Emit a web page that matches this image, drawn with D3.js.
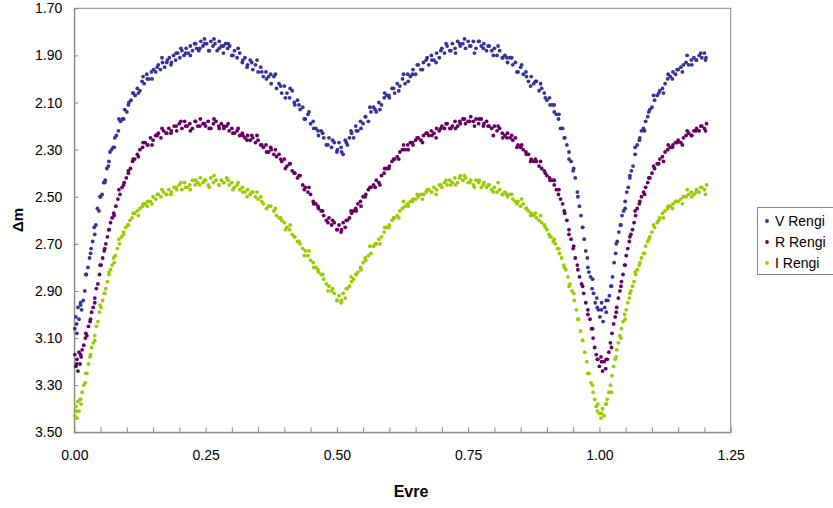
<!DOCTYPE html>
<html><head><meta charset="utf-8">
<script src="https://cdn.jsdelivr.net/npm/d3@7/dist/d3.min.js"></script>
<style>body{margin:0;background:#fff}svg{display:block;font-family:"Liberation Sans",Arial,sans-serif}</style>
</head><body><svg id="c" width="833" height="508"></svg>
<script>
const seriesNames = ["V Rengi","R Rengi","I Rengi"];
const seriesColors = ["#333399","#660066","#99CC00"];
const yTicks = [1.70,1.90,2.10,2.30,2.50,2.70,2.90,3.10,3.30,3.50];
const xTickLabels = [0.00,0.25,0.50,0.75,1.00,1.25];

const vSet1 = [[0.001,3.06],[0.003,3.01],[0.005,3.08],[0.007,2.97],[0.009,3.02],[0.012,2.95],[0.014,2.98],[0.017,2.94],[0.020,2.90],[0.023,2.83],[0.026,2.80],[0.029,2.76],[0.032,2.72],[0.035,2.69],[0.038,2.63],[0.041,2.62],[0.044,2.55],[0.047,2.56],[0.050,2.50],[0.053,2.49],[0.056,2.44],[0.059,2.43],[0.062,2.38],[0.065,2.37],[0.068,2.31],[0.071,2.30],[0.074,2.29],[0.077,2.25],[0.080,2.24],[0.084,2.22],[0.088,2.18],[0.092,2.17],[0.096,2.13],[0.100,2.14],[0.104,2.10],[0.108,2.09],[0.112,2.06],[0.116,2.07],[0.120,2.04],[0.125,2.05],[0.129,2.01],[0.133,2.02],[0.138,1.98],[0.142,2.00],[0.147,1.97],[0.151,1.96],[0.155,1.97],[0.160,1.94],[0.164,1.96],[0.168,1.93],[0.172,1.95],[0.177,1.92],[0.181,1.91],[0.185,1.93],[0.189,1.90],[0.193,1.92],[0.197,1.89],[0.201,1.91],[0.205,1.88],[0.209,1.90],[0.213,1.87],[0.217,1.89],[0.221,1.86],[0.225,1.88],[0.229,1.85],[0.233,1.87],[0.237,1.88],[0.241,1.84],[0.245,1.86],[0.248,1.83],[0.252,1.85],[0.256,1.88],[0.260,1.84],[0.264,1.86],[0.268,1.85],[0.272,1.88],[0.276,1.84],[0.280,1.86],[0.284,1.89],[0.288,1.85],[0.292,1.87],[0.296,1.86],[0.300,1.90],[0.305,1.88],[0.310,1.91],[0.315,1.89],[0.320,1.93],[0.325,1.91],[0.330,1.94],[0.335,1.92],[0.340,1.96],[0.345,1.94],[0.350,1.97],[0.355,1.95],[0.360,1.99],[0.365,1.97],[0.370,1.99],[0.375,2.02],[0.380,1.99],[0.385,2.04],[0.390,2.02],[0.395,2.06],[0.400,2.03],[0.405,2.06],[0.410,2.08],[0.415,2.05],[0.420,2.11],[0.425,2.09],[0.430,2.13],[0.435,2.12],[0.440,2.17],[0.445,2.15],[0.450,2.19],[0.455,2.18],[0.460,2.21],[0.465,2.24],[0.470,2.22],[0.475,2.25],[0.480,2.28],[0.485,2.25],[0.490,2.29],[0.495,2.27],[0.500,2.31],[0.504,2.27],[0.508,2.29],[0.512,2.32],[0.516,2.26],[0.520,2.28],[0.524,2.25],[0.528,2.23],[0.532,2.25],[0.536,2.20],[0.540,2.22],[0.545,2.18],[0.550,2.19],[0.555,2.16],[0.560,2.18],[0.565,2.14],[0.570,2.12],[0.575,2.14],[0.580,2.10],[0.585,2.11],[0.590,2.08],[0.595,2.07],[0.600,2.08],[0.605,2.04],[0.610,2.06],[0.615,2.02],[0.620,2.03],[0.625,2.00],[0.630,2.02],[0.635,1.98],[0.640,1.99],[0.645,1.96],[0.650,1.98],[0.655,1.94],[0.660,1.96],[0.665,1.93],[0.670,1.92],[0.675,1.94],[0.680,1.90],[0.685,1.92],[0.690,1.89],[0.695,1.91],[0.700,1.87],[0.705,1.89],[0.710,1.86],[0.715,1.88],[0.720,1.85],[0.725,1.87],[0.730,1.84],[0.735,1.86],[0.740,1.85],[0.745,1.87],[0.750,1.84],[0.755,1.86],[0.760,1.84],[0.765,1.87],[0.770,1.84],[0.775,1.86],[0.780,1.85],[0.785,1.88],[0.790,1.86],[0.795,1.88],[0.800,1.87],[0.805,1.90],[0.810,1.88],[0.815,1.91],[0.820,1.90],[0.825,1.93],[0.830,1.91],[0.835,1.94],[0.840,1.93],[0.845,1.97],[0.850,1.95],[0.855,1.98],[0.860,1.97],[0.865,2.01],[0.870,1.99],[0.875,2.02],[0.880,2.01],[0.885,2.05],[0.890,2.04],[0.895,2.06],[0.900,2.09],[0.905,2.08],[0.910,2.11],[0.914,2.14],[0.918,2.15],[0.922,2.17],[0.926,2.21],[0.930,2.21],[0.934,2.25],[0.938,2.28],[0.942,2.31],[0.946,2.35],[0.950,2.39],[0.954,2.42],[0.958,2.48],[0.962,2.54],[0.965,2.58],[0.968,2.63],[0.971,2.68],[0.974,2.73],[0.977,2.76],[0.980,2.82],[0.983,2.84],[0.986,2.89],[0.989,2.91],[0.992,2.95],[0.995,2.93],[0.998,2.98],[1.001,3.01],[1.004,2.95],[1.007,3.03],[1.010,2.97],[1.013,2.99],[1.016,2.94],[1.019,2.92],[1.022,2.88],[1.025,2.84],[1.028,2.78],[1.031,2.74],[1.034,2.69],[1.037,2.65],[1.040,2.62],[1.043,2.58],[1.046,2.56],[1.049,2.52],[1.052,2.48],[1.055,2.46],[1.058,2.42],[1.061,2.39],[1.064,2.37],[1.068,2.32],[1.072,2.28],[1.076,2.26],[1.080,2.22],[1.084,2.21],[1.088,2.18],[1.092,2.16],[1.096,2.13],[1.100,2.12],[1.105,2.09],[1.110,2.07],[1.115,2.05],[1.120,2.04],[1.125,2.02],[1.130,2.00],[1.135,1.99],[1.140,1.97],[1.145,1.98],[1.150,1.96],[1.155,1.95],[1.160,1.94],[1.165,1.93],[1.170,1.94],[1.175,1.92],[1.180,1.91],[1.185,1.92],[1.190,1.90],[1.195,1.91],[1.200,1.89],[1.203,1.91]];
const vSet2 = [[0.0045,3.04],[0.012,2.96],[0.022,2.83],[0.031,2.74],[0.039,2.66],[0.049,2.50],[0.058,2.44],[0.066,2.35],[0.076,2.29],[0.085,2.17],[0.094,2.17],[0.103,2.11],[0.112,2.06],[0.122,2.06],[0.131,1.99],[0.139,2.00],[0.148,2.00],[0.158,1.95],[0.167,1.91],[0.176,1.93],[0.184,1.94],[0.194,1.89],[0.203,1.87],[0.212,1.89],[0.221,1.90],[0.231,1.85],[0.239,1.87],[0.248,1.85],[0.257,1.88],[0.266,1.83],[0.276,1.87],[0.284,1.86],[0.293,1.85],[0.302,1.90],[0.312,1.87],[0.321,1.92],[0.329,1.95],[0.338,1.93],[0.348,1.92],[0.357,1.97],[0.366,2.00],[0.374,1.98],[0.383,1.98],[0.393,2.03],[0.402,2.08],[0.411,2.04],[0.419,2.10],[0.428,2.11],[0.438,2.17],[0.447,2.14],[0.456,2.21],[0.464,2.22],[0.473,2.23],[0.483,2.28],[0.492,2.26],[0.501,2.30],[0.509,2.31],[0.518,2.27],[0.527,2.22],[0.537,2.22],[0.546,2.21],[0.554,2.16],[0.563,2.12],[0.573,2.13],[0.582,2.13],[0.591,2.06],[0.599,2.07],[0.608,2.04],[0.618,2.05],[0.627,1.98],[0.636,2.01],[0.644,1.98],[0.653,1.94],[0.663,1.96],[0.672,1.91],[0.681,1.92],[0.689,1.93],[0.698,1.88],[0.708,1.85],[0.717,1.88],[0.726,1.89],[0.734,1.85],[0.743,1.83],[0.753,1.86],[0.762,1.89],[0.771,1.84],[0.779,1.87],[0.788,1.86],[0.798,1.90],[0.807,1.86],[0.816,1.91],[0.824,1.91],[0.833,1.91],[0.843,1.97],[0.852,1.94],[0.861,1.99],[0.869,2.03],[0.878,2.01],[0.888,2.02],[0.897,2.08],[0.906,2.11],[0.914,2.11],[0.923,2.15],[0.933,2.25],[0.942,2.34],[0.951,2.38],[0.959,2.50],[0.968,2.63],[0.978,2.80],[0.987,2.85],[0.996,2.97],[1.004,2.98],[1.013,2.94],[1.023,2.88],[1.032,2.70],[1.041,2.62],[1.049,2.55],[1.058,2.41],[1.068,2.29],[1.077,2.25],[1.086,2.22],[1.094,2.14],[1.103,2.07],[1.113,2.06],[1.122,2.06],[1.131,1.98],[1.139,2.00],[1.148,1.96],[1.158,1.97],[1.167,1.90],[1.176,1.94],[1.184,1.92],[1.193,1.89],[1.202,1.92]];

const rSet1 = [[0.001,3.17],[0.003,3.22],[0.005,3.19],[0.007,3.24],[0.009,3.16],[0.011,3.21],[0.013,3.18],[0.015,3.15],[0.018,3.13],[0.021,3.10],[0.024,3.09],[0.027,3.05],[0.030,3.03],[0.033,2.99],[0.036,2.97],[0.039,2.93],[0.042,2.89],[0.045,2.87],[0.048,2.83],[0.051,2.79],[0.054,2.76],[0.057,2.73],[0.060,2.70],[0.063,2.67],[0.066,2.64],[0.069,2.61],[0.072,2.59],[0.075,2.57],[0.079,2.54],[0.083,2.51],[0.087,2.49],[0.091,2.46],[0.095,2.44],[0.099,2.42],[0.103,2.39],[0.107,2.38],[0.111,2.35],[0.115,2.34],[0.120,2.32],[0.125,2.30],[0.130,2.29],[0.135,2.27],[0.140,2.28],[0.145,2.25],[0.150,2.26],[0.155,2.24],[0.160,2.23],[0.165,2.25],[0.170,2.22],[0.175,2.23],[0.180,2.21],[0.185,2.22],[0.190,2.20],[0.195,2.22],[0.200,2.19],[0.205,2.21],[0.210,2.18],[0.215,2.20],[0.220,2.19],[0.225,2.21],[0.230,2.18],[0.235,2.20],[0.240,2.17],[0.245,2.19],[0.250,2.20],[0.255,2.18],[0.260,2.21],[0.265,2.19],[0.270,2.18],[0.275,2.20],[0.280,2.19],[0.285,2.21],[0.290,2.20],[0.295,2.22],[0.300,2.21],[0.305,2.23],[0.310,2.22],[0.315,2.24],[0.320,2.23],[0.325,2.25],[0.330,2.24],[0.335,2.26],[0.340,2.25],[0.345,2.27],[0.350,2.26],[0.355,2.28],[0.360,2.29],[0.365,2.28],[0.370,2.31],[0.375,2.30],[0.380,2.32],[0.385,2.33],[0.390,2.32],[0.395,2.35],[0.400,2.34],[0.405,2.37],[0.410,2.36],[0.415,2.39],[0.420,2.40],[0.425,2.42],[0.430,2.41],[0.435,2.45],[0.440,2.46],[0.445,2.48],[0.450,2.49],[0.455,2.52],[0.460,2.53],[0.465,2.55],[0.470,2.56],[0.475,2.58],[0.480,2.60],[0.485,2.59],[0.490,2.62],[0.495,2.61],[0.500,2.64],[0.504,2.62],[0.508,2.65],[0.512,2.61],[0.516,2.63],[0.520,2.60],[0.524,2.59],[0.528,2.57],[0.532,2.56],[0.536,2.55],[0.540,2.53],[0.545,2.52],[0.550,2.50],[0.555,2.49],[0.560,2.47],[0.565,2.46],[0.570,2.45],[0.575,2.43],[0.580,2.44],[0.585,2.41],[0.590,2.40],[0.595,2.38],[0.600,2.37],[0.605,2.35],[0.610,2.34],[0.615,2.33],[0.620,2.31],[0.625,2.30],[0.630,2.30],[0.635,2.28],[0.640,2.27],[0.645,2.28],[0.650,2.26],[0.655,2.25],[0.660,2.26],[0.665,2.24],[0.670,2.23],[0.675,2.24],[0.680,2.22],[0.685,2.23],[0.690,2.21],[0.695,2.22],[0.700,2.20],[0.705,2.21],[0.710,2.19],[0.715,2.21],[0.720,2.20],[0.725,2.18],[0.730,2.20],[0.735,2.19],[0.740,2.17],[0.745,2.19],[0.750,2.18],[0.755,2.16],[0.760,2.18],[0.765,2.17],[0.770,2.19],[0.775,2.17],[0.780,2.19],[0.785,2.18],[0.790,2.20],[0.795,2.21],[0.800,2.20],[0.805,2.22],[0.810,2.21],[0.815,2.23],[0.820,2.24],[0.825,2.23],[0.830,2.25],[0.835,2.26],[0.840,2.25],[0.845,2.28],[0.850,2.29],[0.855,2.30],[0.860,2.31],[0.865,2.32],[0.870,2.34],[0.875,2.35],[0.880,2.35],[0.885,2.37],[0.890,2.38],[0.895,2.39],[0.900,2.41],[0.905,2.42],[0.910,2.43],[0.914,2.45],[0.918,2.47],[0.922,2.49],[0.926,2.51],[0.930,2.53],[0.934,2.57],[0.938,2.60],[0.942,2.64],[0.946,2.68],[0.950,2.72],[0.954,2.76],[0.958,2.79],[0.962,2.84],[0.966,2.87],[0.970,2.91],[0.974,2.95],[0.978,2.98],[0.982,3.02],[0.985,3.06],[0.988,3.10],[0.991,3.14],[0.994,3.17],[0.997,3.19],[1.000,3.22],[1.003,3.18],[1.006,3.24],[1.009,3.20],[1.012,3.23],[1.015,3.19],[1.018,3.16],[1.021,3.12],[1.024,3.08],[1.027,3.04],[1.030,3.01],[1.033,2.97],[1.036,2.93],[1.039,2.90],[1.042,2.86],[1.045,2.83],[1.048,2.79],[1.051,2.75],[1.054,2.72],[1.057,2.69],[1.060,2.66],[1.063,2.64],[1.066,2.61],[1.069,2.58],[1.072,2.55],[1.076,2.53],[1.080,2.50],[1.084,2.48],[1.088,2.46],[1.092,2.44],[1.096,2.42],[1.100,2.40],[1.105,2.38],[1.110,2.36],[1.115,2.34],[1.120,2.33],[1.125,2.31],[1.130,2.30],[1.135,2.29],[1.140,2.28],[1.145,2.27],[1.150,2.26],[1.155,2.27],[1.160,2.25],[1.165,2.24],[1.170,2.23],[1.175,2.24],[1.180,2.22],[1.185,2.21],[1.190,2.22],[1.195,2.20],[1.200,2.21],[1.204,2.19]];
const rSet2 = [[0.0045,3.21],[0.012,3.17],[0.022,3.08],[0.031,3.02],[0.039,2.95],[0.049,2.79],[0.058,2.72],[0.066,2.64],[0.076,2.58],[0.085,2.47],[0.094,2.45],[0.103,2.40],[0.112,2.34],[0.122,2.33],[0.131,2.27],[0.139,2.28],[0.148,2.28],[0.158,2.24],[0.167,2.21],[0.176,2.23],[0.184,2.23],[0.194,2.20],[0.203,2.18],[0.212,2.20],[0.221,2.22],[0.231,2.18],[0.239,2.20],[0.248,2.19],[0.257,2.21],[0.266,2.17],[0.276,2.21],[0.284,2.20],[0.293,2.19],[0.302,2.23],[0.312,2.21],[0.321,2.24],[0.329,2.26],[0.338,2.24],[0.348,2.24],[0.357,2.28],[0.366,2.31],[0.374,2.29],[0.383,2.30],[0.393,2.34],[0.402,2.38],[0.411,2.36],[0.419,2.40],[0.428,2.41],[0.438,2.47],[0.447,2.46],[0.456,2.53],[0.464,2.54],[0.473,2.56],[0.483,2.61],[0.492,2.60],[0.501,2.64],[0.509,2.64],[0.518,2.60],[0.527,2.56],[0.537,2.56],[0.546,2.54],[0.554,2.50],[0.563,2.46],[0.573,2.46],[0.582,2.45],[0.591,2.38],[0.599,2.38],[0.608,2.34],[0.618,2.34],[0.627,2.28],[0.636,2.30],[0.644,2.27],[0.653,2.25],[0.663,2.27],[0.672,2.23],[0.681,2.24],[0.689,2.25],[0.698,2.21],[0.708,2.19],[0.717,2.21],[0.726,2.21],[0.734,2.18],[0.743,2.17],[0.753,2.18],[0.762,2.20],[0.771,2.17],[0.779,2.20],[0.788,2.20],[0.798,2.24],[0.807,2.20],[0.816,2.25],[0.824,2.25],[0.833,2.24],[0.843,2.29],[0.852,2.28],[0.861,2.32],[0.869,2.35],[0.878,2.34],[0.888,2.35],[0.897,2.40],[0.906,2.43],[0.914,2.43],[0.923,2.47],[0.933,2.56],[0.942,2.66],[0.951,2.71],[0.959,2.81],[0.968,2.88],[0.978,3.00],[0.987,3.06],[0.996,3.19],[1.004,3.20],[1.013,3.19],[1.023,3.14],[1.032,2.99],[1.041,2.88],[1.049,2.79],[1.058,2.67],[1.068,2.56],[1.077,2.52],[1.086,2.49],[1.094,2.42],[1.103,2.37],[1.113,2.36],[1.122,2.35],[1.131,2.28],[1.139,2.29],[1.148,2.27],[1.158,2.28],[1.167,2.22],[1.176,2.24],[1.184,2.22],[1.193,2.20],[1.202,2.22]];

const iSet1 = [[0.001,3.43],[0.003,3.39],[0.005,3.44],[0.007,3.37],[0.009,3.41],[0.011,3.36],[0.013,3.38],[0.015,3.33],[0.018,3.30],[0.021,3.29],[0.024,3.25],[0.027,3.21],[0.030,3.18],[0.033,3.14],[0.036,3.12],[0.039,3.09],[0.042,3.05],[0.045,3.03],[0.048,2.99],[0.051,2.97],[0.054,2.94],[0.057,2.91],[0.060,2.89],[0.063,2.86],[0.066,2.83],[0.069,2.81],[0.072,2.79],[0.075,2.76],[0.078,2.75],[0.082,2.72],[0.086,2.70],[0.090,2.67],[0.094,2.65],[0.098,2.63],[0.102,2.62],[0.106,2.60],[0.110,2.59],[0.115,2.57],[0.120,2.56],[0.125,2.55],[0.130,2.54],[0.135,2.53],[0.140,2.52],[0.145,2.52],[0.150,2.50],[0.155,2.51],[0.160,2.49],[0.165,2.50],[0.170,2.48],[0.175,2.49],[0.180,2.47],[0.185,2.48],[0.190,2.46],[0.195,2.47],[0.200,2.45],[0.205,2.47],[0.210,2.44],[0.215,2.46],[0.220,2.45],[0.225,2.43],[0.230,2.45],[0.235,2.44],[0.240,2.42],[0.245,2.44],[0.250,2.43],[0.255,2.45],[0.260,2.42],[0.265,2.44],[0.270,2.43],[0.275,2.45],[0.280,2.43],[0.285,2.44],[0.290,2.42],[0.295,2.45],[0.300,2.44],[0.305,2.46],[0.310,2.45],[0.315,2.47],[0.320,2.46],[0.325,2.48],[0.330,2.47],[0.335,2.49],[0.340,2.48],[0.345,2.50],[0.350,2.51],[0.355,2.50],[0.360,2.53],[0.370,2.54],[0.380,2.56],[0.385,2.58],[0.390,2.59],[0.395,2.60],[0.400,2.61],[0.405,2.63],[0.410,2.64],[0.415,2.66],[0.420,2.67],[0.425,2.69],[0.430,2.70],[0.435,2.72],[0.440,2.73],[0.445,2.75],[0.450,2.77],[0.455,2.78],[0.460,2.80],[0.465,2.82],[0.470,2.83],[0.475,2.85],[0.480,2.87],[0.485,2.88],[0.490,2.90],[0.495,2.91],[0.500,2.94],[0.504,2.92],[0.508,2.95],[0.512,2.91],[0.516,2.93],[0.520,2.89],[0.524,2.88],[0.528,2.86],[0.532,2.85],[0.536,2.83],[0.540,2.82],[0.545,2.80],[0.550,2.78],[0.555,2.77],[0.560,2.75],[0.565,2.74],[0.570,2.71],[0.575,2.70],[0.580,2.68],[0.585,2.67],[0.590,2.65],[0.595,2.63],[0.600,2.62],[0.605,2.60],[0.610,2.59],[0.615,2.58],[0.620,2.56],[0.625,2.55],[0.630,2.54],[0.635,2.53],[0.640,2.52],[0.645,2.51],[0.650,2.51],[0.655,2.50],[0.660,2.49],[0.665,2.49],[0.670,2.48],[0.675,2.47],[0.680,2.48],[0.685,2.46],[0.690,2.47],[0.695,2.45],[0.700,2.46],[0.705,2.44],[0.710,2.45],[0.715,2.43],[0.720,2.44],[0.725,2.42],[0.730,2.44],[0.735,2.41],[0.740,2.43],[0.745,2.42],[0.750,2.44],[0.755,2.43],[0.760,2.45],[0.765,2.43],[0.770,2.44],[0.775,2.46],[0.780,2.44],[0.785,2.46],[0.790,2.45],[0.795,2.47],[0.800,2.46],[0.805,2.48],[0.810,2.47],[0.815,2.49],[0.820,2.48],[0.825,2.50],[0.830,2.49],[0.835,2.51],[0.840,2.52],[0.845,2.52],[0.850,2.54],[0.855,2.53],[0.860,2.55],[0.865,2.56],[0.870,2.57],[0.875,2.58],[0.880,2.59],[0.885,2.60],[0.890,2.61],[0.895,2.62],[0.900,2.64],[0.904,2.66],[0.908,2.67],[0.912,2.69],[0.916,2.70],[0.920,2.72],[0.924,2.74],[0.928,2.76],[0.932,2.79],[0.936,2.81],[0.940,2.84],[0.944,2.87],[0.948,2.90],[0.952,2.94],[0.956,2.98],[0.960,3.02],[0.964,3.07],[0.968,3.11],[0.972,3.16],[0.976,3.20],[0.980,3.25],[0.984,3.29],[0.988,3.33],[0.991,3.36],[0.994,3.39],[0.997,3.38],[1.000,3.42],[1.003,3.44],[1.006,3.40],[1.009,3.43],[1.012,3.38],[1.015,3.36],[1.018,3.33],[1.021,3.30],[1.024,3.26],[1.027,3.22],[1.030,3.19],[1.033,3.15],[1.036,3.12],[1.039,3.09],[1.042,3.06],[1.045,3.03],[1.048,3.00],[1.051,2.98],[1.054,2.95],[1.057,2.93],[1.060,2.90],[1.063,2.88],[1.066,2.86],[1.069,2.83],[1.072,2.81],[1.076,2.79],[1.080,2.76],[1.084,2.74],[1.088,2.71],[1.092,2.69],[1.096,2.67],[1.100,2.65],[1.105,2.63],[1.110,2.61],[1.115,2.59],[1.120,2.57],[1.125,2.56],[1.130,2.55],[1.135,2.54],[1.140,2.53],[1.145,2.52],[1.150,2.52],[1.155,2.51],[1.160,2.50],[1.165,2.50],[1.170,2.49],[1.175,2.48],[1.180,2.49],[1.185,2.47],[1.190,2.48],[1.195,2.46],[1.200,2.47],[1.204,2.45]];
const iSet2 = [[0.0045,3.41],[0.012,3.36],[0.022,3.25],[0.031,3.17],[0.039,3.11],[0.049,2.96],[0.058,2.91],[0.066,2.82],[0.076,2.78],[0.085,2.68],[0.094,2.66],[0.103,2.62],[0.112,2.57],[0.122,2.58],[0.131,2.53],[0.139,2.54],[0.148,2.53],[0.158,2.49],[0.167,2.47],[0.176,2.49],[0.184,2.49],[0.194,2.46],[0.203,2.44],[0.212,2.46],[0.221,2.47],[0.231,2.43],[0.239,2.45],[0.248,2.43],[0.257,2.46],[0.266,2.41],[0.276,2.45],[0.284,2.44],[0.293,2.43],[0.302,2.47],[0.312,2.44],[0.321,2.48],[0.329,2.50],[0.338,2.48],[0.348,2.48],[0.357,2.52],[0.366,2.55],[0.374,2.54],[0.383,2.55],[0.393,2.59],[0.402,2.64],[0.411,2.62],[0.419,2.67],[0.428,2.69],[0.438,2.75],[0.447,2.73],[0.456,2.80],[0.464,2.81],[0.473,2.83],[0.483,2.90],[0.492,2.89],[0.501,2.94],[0.509,2.94],[0.518,2.89],[0.527,2.84],[0.537,2.83],[0.546,2.81],[0.554,2.76],[0.563,2.71],[0.573,2.70],[0.582,2.70],[0.591,2.63],[0.599,2.63],[0.608,2.59],[0.618,2.59],[0.627,2.52],[0.636,2.54],[0.644,2.52],[0.653,2.49],[0.663,2.51],[0.672,2.47],[0.681,2.48],[0.689,2.49],[0.698,2.45],[0.708,2.43],[0.717,2.45],[0.726,2.45],[0.734,2.42],[0.743,2.41],[0.753,2.44],[0.762,2.46],[0.771,2.43],[0.779,2.45],[0.788,2.45],[0.798,2.48],[0.807,2.44],[0.816,2.49],[0.824,2.49],[0.833,2.49],[0.843,2.53],[0.852,2.51],[0.861,2.55],[0.869,2.58],[0.878,2.57],[0.888,2.58],[0.897,2.63],[0.906,2.67],[0.914,2.68],[0.923,2.72],[0.933,2.80],[0.942,2.88],[0.951,2.91],[0.959,3.02],[0.968,3.11],[0.978,3.25],[0.987,3.30],[0.996,3.41],[1.004,3.42],[1.013,3.38],[1.023,3.33],[1.032,3.18],[1.041,3.10],[1.049,3.02],[1.058,2.91],[1.068,2.82],[1.077,2.78],[1.086,2.74],[1.094,2.68],[1.103,2.62],[1.113,2.60],[1.122,2.59],[1.131,2.54],[1.139,2.55],[1.148,2.52],[1.158,2.53],[1.167,2.47],[1.176,2.50],[1.184,2.48],[1.193,2.46],[1.202,2.49]];

const allSeries = [vSet1.concat(vSet2), rSet1.concat(rSet2), iSet1.concat(iSet2)];

const svg = d3.select("#c");
const L = 74.3, R = 730.7, T = 8.3, B = 432.3;
const x = d3.scaleLinear().domain([0,1.25]).range([L,R]);
const y = d3.scaleLinear().domain([1.70,3.50]).range([T,B]);
const axisColor = "#868686";
const ff = "'Liberation Sans',Arial,sans-serif";

svg.append("rect").attr("x",L).attr("y",T).attr("width",R-L).attr("height",B-T)
  .attr("fill","none").attr("stroke",axisColor).attr("stroke-width",1);

const xAxis = d3.axisBottom(x).tickValues(d3.range(0,1.2501,0.05)).tickSizeInner(-5).tickSizeOuter(0)
  .tickFormat(d => xTickLabels.some(v => Math.abs(v-d)<1e-6) ? d3.format(".2f")(d) : "");
const gx = svg.append("g").attr("transform",`translate(0,${B})`).call(xAxis);
gx.selectAll("path,line").attr("stroke",axisColor);
gx.selectAll("text").attr("font-size",14).attr("fill","#000").attr("y",0).attr("dy",28)
  .attr("font-family",ff);

const yAxis = d3.axisLeft(y).tickValues(yTicks).tickSizeInner(-4).tickSizeOuter(0).tickFormat(d3.format(".2f"));
const gy = svg.append("g").attr("transform",`translate(${L},0)`).call(yAxis);
gy.selectAll("path,line").attr("stroke",axisColor);
gy.selectAll("text").attr("font-size",14).attr("fill","#000").attr("x",-12)
  .attr("font-family",ff);

allSeries.forEach((data,i) => {
  svg.append("g").selectAll("circle").data(data).join("circle")
    .attr("cx",d=>x(d[0])).attr("cy",d=>y(d[1])).attr("r",1.9)
    .attr("fill",seriesColors[i]);
});

svg.append("text").attr("x",411).attr("y",497).attr("text-anchor","middle")
  .attr("font-size",16).attr("font-weight","bold").text("Evre");
svg.append("text").attr("transform","translate(23,220) rotate(-90)").attr("text-anchor","middle")
  .attr("font-size",15).attr("font-weight","bold").text("Δm");

const lg = svg.append("g");
lg.append("rect").attr("x",757.5).attr("y",207.5).attr("width",76).attr("height",67)
  .attr("fill","#fff").attr("stroke",axisColor);
seriesNames.forEach((n,i) => {
  const cy = 221 + i*21;
  lg.append("circle").attr("cx",767).attr("cy",cy).attr("r",1.9).attr("fill",seriesColors[i]);
  lg.append("text").attr("x",775).attr("y",cy+5).attr("font-size",14).attr("fill","#000").text(n);
});
</script></body></html>
